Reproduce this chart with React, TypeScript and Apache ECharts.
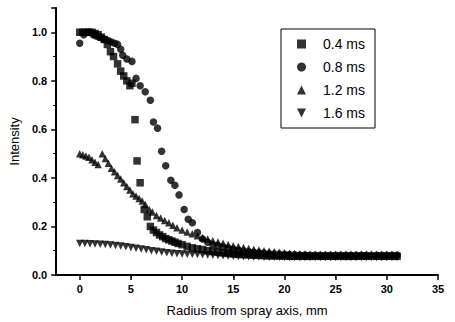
import React, { useEffect, useRef } from "react";
import * as echarts from "echarts";

const seriesNames = ["0.4 ms", "0.8 ms", "1.2 ms", "1.6 ms"];

const radiusA = [0,0.3,0.6,0.9,1.2,1.5,1.8,2.1,2.4,2.7,3.0,3.3,3.7,4.0,4.3,4.6,4.9,5.1,5.4,5.6,5.9,6.3,6.6,6.9,7.2,7.5,7.8,8.1,8.4,8.7,9.0,9.3,9.6,10.0,10.5,
  11,11.5,12,12.5,13,13.5,14,14.5,15,15.5,16,16.5,17,17.5,18,18.5,19,19.5,20,20.5,21,21.5,22,22.5,23,23.5,24,24.5,25,25.5,26,26.5,27,27.5,28,28.5,29,29.5,30,30.5,31];
const intensityA = [1.0,1.0,1.0,1.0,1.0,0.995,0.99,0.98,0.97,0.95,0.92,0.9,0.87,0.84,0.82,0.8,0.78,0.79,0.64,0.47,0.38,0.27,0.24,0.2,0.185,0.175,0.165,0.158,0.15,0.145,0.14,0.135,0.13,0.125,0.118,
  0.112,0.108,0.105,0.1,0.097,0.094,0.091,0.089,0.087,0.085,0.084,0.083,0.082,0.081,0.08,0.079,0.079,0.078,0.078,0.077,0.077,0.077,0.077,0.077,0.077,0.077,0.077,0.077,0.077,0.077,0.077,0.077,0.077,0.077,0.077,0.077,0.077,0.077,0.077,0.077,0.077];

const radiusB = [0,0.4,0.7,1.0,1.3,1.6,1.9,2.2,2.5,2.8,3.1,3.4,3.7,4.0,4.2,4.6,5.1,5.5,5.9,6.4,6.9,7.2,7.6,8.0,8.4,8.9,9.3,9.7,10.2,10.6,11.0,11.5,12.0,12.5,13,
  13.5,14,14.5,15,15.5,16,16.5,17,17.5,18,18.5,19,19.5,20,20.5,21,21.5,22,22.5,23,23.5,24,24.5,25,25.5,26,26.5,27,27.5,28,28.5,29,29.5,30,30.5,31];
const intensityB = [0.955,0.99,1.0,1.0,0.99,0.985,0.98,0.975,0.97,0.965,0.96,0.955,0.95,0.93,0.905,0.89,0.88,0.81,0.78,0.755,0.72,0.63,0.605,0.51,0.45,0.39,0.37,0.33,0.27,0.23,0.215,0.175,0.148,0.135,0.125,
  0.12,0.115,0.11,0.106,0.102,0.099,0.096,0.094,0.092,0.09,0.088,0.087,0.086,0.085,0.084,0.083,0.082,0.082,0.081,0.081,0.081,0.081,0.081,0.081,0.081,0.081,0.081,0.081,0.081,0.081,0.081,0.081,0.081,0.081,0.081,0.081];

const radiusC = [0,0.3,0.6,0.9,1.2,1.5,1.8,2.2,2.5,2.8,3.1,3.4,3.7,4.0,4.3,4.6,4.9,5.2,5.5,5.8,6.1,6.4,6.8,7.1,7.5,7.9,8.3,8.7,9.1,9.5,10,10.5,11,11.5,12,12.5,13,
  13.5,14,14.5,15,15.5,16,16.5,17,17.5,18,18.5,19,19.5,20,20.5,21,21.5,22,22.5,23,23.5,24,24.5,25,25.5,26,26.5,27,27.5,28,28.5,29,29.5,30,30.5,31];
const intensityC = [0.5,0.495,0.49,0.485,0.475,0.465,0.455,0.5,0.48,0.46,0.44,0.425,0.41,0.395,0.38,0.365,0.35,0.335,0.325,0.315,0.305,0.29,0.27,0.26,0.245,0.235,0.225,0.215,0.205,0.195,0.185,0.177,0.17,0.162,0.155,0.148,0.141,
  0.136,0.131,0.126,0.121,0.117,0.113,0.109,0.106,0.103,0.1,0.098,0.096,0.094,0.092,0.09,0.089,0.088,0.087,0.086,0.085,0.085,0.085,0.085,0.085,0.085,0.085,0.085,0.085,0.085,0.085,0.085,0.085,0.085,0.085,0.085,0.085];

const radiusD = [0,0.5,1,1.5,2,2.5,3,3.5,4,4.5,5,5.5,6,6.5,7,7.5,8,8.5,9,9.5,10,10.5,11,11.5,12,12.5,13,13.5,14,14.5,15,15.5,16,16.5,17,17.5,18,
  18.5,19,19.5,20,20.5,21,21.5,22,22.5,23,23.5,24,24.5,25,25.5,26,26.5,27,27.5,28,28.5,29,29.5,30,30.5,31];
const intensityD = [0.13,0.13,0.129,0.128,0.127,0.126,0.124,0.122,0.119,0.116,0.113,0.11,0.107,0.104,0.1,0.098,0.095,0.092,0.09,0.088,0.087,0.086,0.085,0.084,0.083,0.082,0.081,0.08,0.079,0.078,0.077,0.076,0.075,0.075,0.074,0.074,0.073,
  0.073,0.073,0.073,0.072,0.072,0.072,0.072,0.072,0.072,0.072,0.072,0.072,0.072,0.072,0.072,0.072,0.072,0.072,0.072,0.072,0.072,0.072,0.072,0.072,0.072,0.072];

const xTicks = [0, 5, 10, 15, 20, 25, 30, 35];

const pair = (xs: number[], ys: number[]) => xs.map((x, i) => [x, ys[i]]);

export default function App() {
  const ref = useRef<HTMLDivElement>(null);
  useEffect(() => {
    if (!ref.current) return;
    const chart = echarts.init(ref.current, null, { renderer: "svg" });
    const font = "'Liberation Sans', Arial, sans-serif";
    const symbols = ["rect", "circle", "triangle", "triangle"];
    const rotations = [0, 0, 0, 180];
    const legendIcons = ["rect", "circle", "triangle", "path://M0,0L10,0L5,10Z"];
    const datasets = [pair(radiusA, intensityA), pair(radiusB, intensityB), pair(radiusC, intensityC), pair(radiusD, intensityD)];
    chart.setOption({
      animation: false,
      grid: { left: 53, right: 17, top: 8, bottom: 46 },
      legend: {
        orient: "vertical",
        left: 281,
        top: 29,
        width: 95,
        borderColor: "#000",
        borderWidth: 1,
        borderRadius: 0,
        padding: [8, 10, 8, 16],
        itemWidth: 9,
        itemHeight: 9,
        itemGap: 9,
        symbolRotate: 0,
        textStyle: { fontFamily: font, fontSize: 14, color: "#000", padding: [0, 0, 0, 12] },
        data: seriesNames.map((n, i) => ({ name: n, icon: legendIcons[i], itemStyle: { color: "#000" } })),
      },
      xAxis: {
        type: "value",
        min: -2.3,
        max: 35,
        name: "Radius from spray axis, mm",
        nameLocation: "middle",
        nameGap: 29,
        nameTextStyle: { fontFamily: font, fontSize: 13, color: "#000" },
        axisLine: { onZero: false, lineStyle: { color: "#000", width: 2 } },
        axisTick: { show: true, inside: false, length: 5, lineStyle: { color: "#000", width: 1.5 }, customValues: xTicks },
        minorTick: { show: true, splitNumber: 2, length: 3, lineStyle: { color: "#000", width: 1 } },
        axisLabel: {
          fontFamily: font, fontSize: 11, fontWeight: "bold", color: "#000", margin: 8,
          customValues: xTicks,
          formatter: (v: number) => String(v),
        },
        splitLine: { show: false },
      },
      yAxis: {
        type: "value",
        min: 0,
        max: 1.1,
        interval: 0.2,
        name: "Intensity",
        nameLocation: "middle",
        nameGap: 30,
        nameTextStyle: { fontFamily: font, fontSize: 13, color: "#000" },
        axisLine: { onZero: false, lineStyle: { color: "#000", width: 2 } },
        axisTick: { show: true, inside: false, length: 5, lineStyle: { color: "#000", width: 1.5 } },
        minorTick: { show: true, splitNumber: 2, length: 3, lineStyle: { color: "#000", width: 1 } },
        axisLabel: {
          fontFamily: font, fontSize: 11, fontWeight: "bold", color: "#000", margin: 9,
          showMaxLabel: false,
          formatter: (v: number) => (Math.abs(v * 10 - Math.round(v * 10)) < 1e-6 && Math.round(v * 10) % 2 === 0 ? v.toFixed(1) : ""),
        },
        splitLine: { show: false },
      },
      series: datasets.map((d, i) => ({
        name: seriesNames[i],
        type: "scatter",
        symbol: symbols[i],
        symbolRotate: rotations[i],
        symbolSize: 7.5,
        itemStyle: { color: "#000" },
        data: d,
      })),
    });
    return () => chart.dispose();
  }, []);
  return <div ref={ref} style={{ position: "fixed", left: 0, top: 0, width: 455, height: 322, background: "#fff" }} />;
}
